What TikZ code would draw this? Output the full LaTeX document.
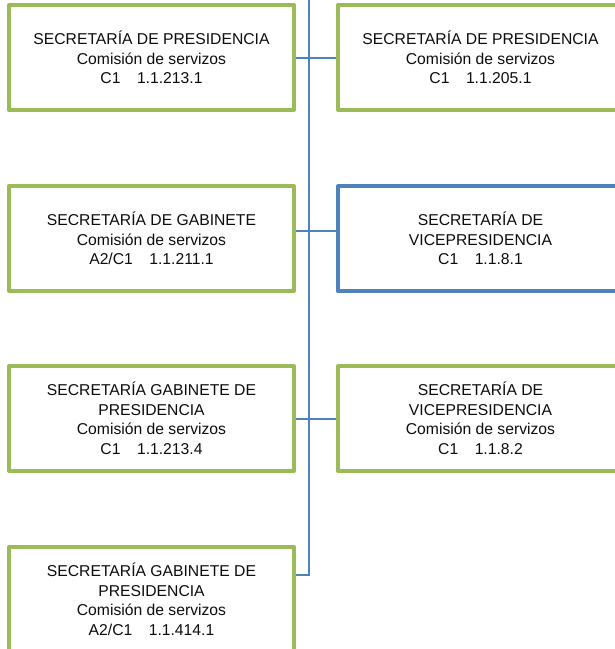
\documentclass[tikz,border=0pt]{standalone}
\usepackage{fontspec}
\setmainfont{Liberation Sans}
\usepackage{tikz}
\usetikzlibrary{positioning}
\definecolor{UnitGreen}{HTML}{9BBB59}
\definecolor{LinkBlue}{HTML}{4F81BD}
\definecolor{TextGray}{HTML}{0D0D0D}
\tikzset{
  unitbox/.style={rectangle, draw=UnitGreen, line width=4pt, line join=round, fill=white, minimum width=285pt, minimum height=105pt, inner sep=0pt, text=TextGray, align=center, font=\fontsize{15.7}{19.5}\selectfont},
  vicebox/.style={unitbox, draw=LinkBlue},
  trunk/.style={draw=LinkBlue, line width=2pt}
}
\newcommand{\posto}[2]{#1\hspace{1.05em}#2}

\begin{document}
\begin{tikzpicture}[x=1pt, y=-1pt]
  \clip (0,0) rectangle (615,649);

  \node[unitbox] (l1) at (151.5,57.5) {SECRETARÍA DE PRESIDENCIA\\Comisión de servizos\\\posto{C1}{1.1.213.1}};
  \node[unitbox, right=40pt of l1] (r1) {SECRETARÍA DE PRESIDENCIA\\Comisión de servizos\\\posto{C1}{1.1.205.1}};

  \node[unitbox] (l2) at (151.5,238.5) {SECRETARÍA DE GABINETE\\Comisión de servizos\\\posto{A2/C1}{1.1.211.1}};
  \node[vicebox, right=40pt of l2] (r2) {SECRETARÍA DE\\VICEPRESIDENCIA\\\posto{C1}{1.1.8.1}};

  \node[unitbox] (l3) at (151.5,418.5) {SECRETARÍA GABINETE DE\\PRESIDENCIA\\Comisión de servizos\\\posto{C1}{1.1.213.4}};
  \node[unitbox, right=40pt of l3] (r3) {SECRETARÍA DE\\VICEPRESIDENCIA\\Comisión de servizos\\\posto{C1}{1.1.8.2}};

  \node[unitbox] (l4) at (151.5,599.5) {SECRETARÍA GABINETE DE\\PRESIDENCIA\\Comisión de servizos\\\posto{A2/C1}{1.1.414.1}};

  % main line and branches
  \coordinate (trunktop) at (309,0);
  \coordinate (trunkend) at (309,575);
  \draw[trunk] (trunktop) -- (trunkend) -- (trunkend -| l4.east);
  \draw[trunk] (l1.east) -- (r1.west);
  \draw[trunk] ([yshift=7.5pt]l2.east) -- ([yshift=7.5pt]r2.west);
  \draw[trunk] (l3.east) -- (r3.west);
\end{tikzpicture}
\end{document}
